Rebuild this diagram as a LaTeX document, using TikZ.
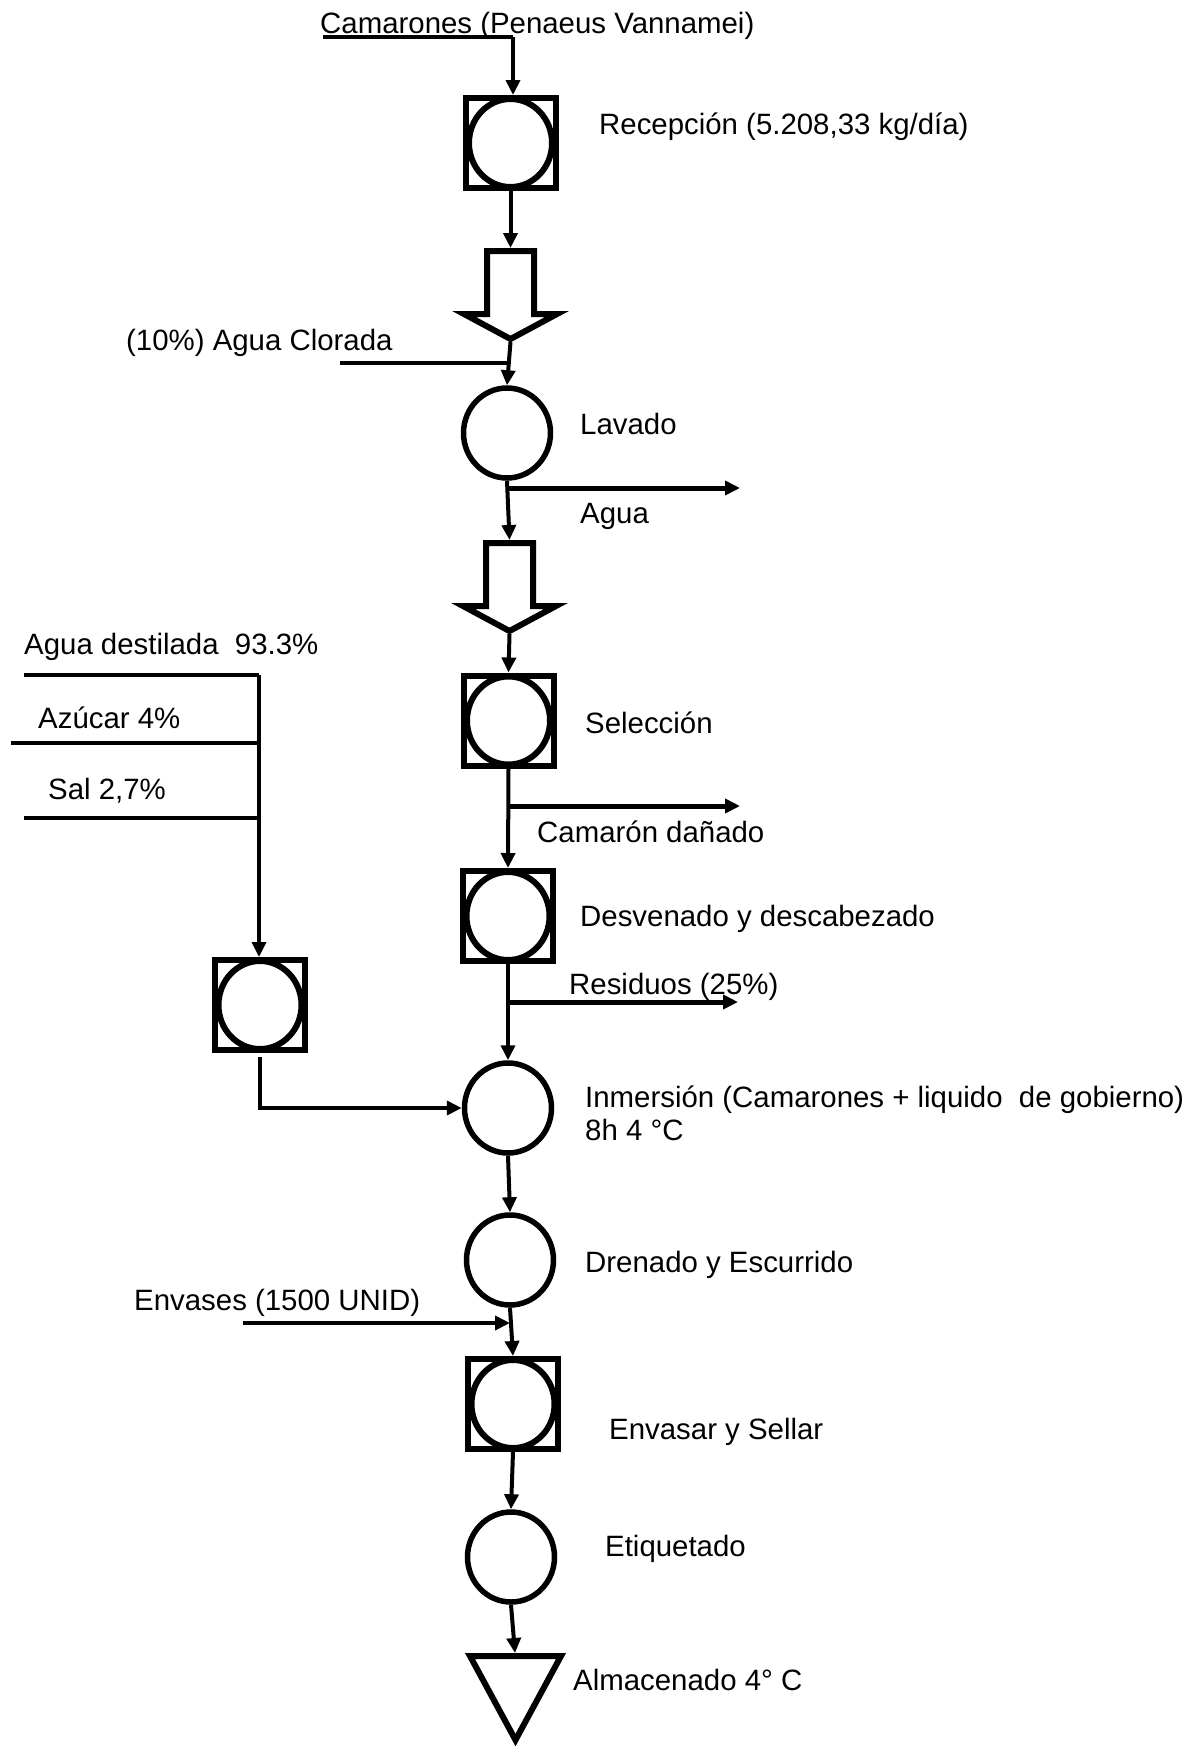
\documentclass[tikz,border=0pt]{standalone}
\usepackage{fontspec}
\setmainfont{Liberation Sans}
\usetikzlibrary{arrows.meta,shapes.geometric,calc}
\begin{document}
\begin{tikzpicture}[x=1pt,y=-1pt,
  lbl/.style={anchor=base west,inner sep=0pt,font=\fontsize{29.4pt}{35pt}\selectfont},
  opbox/.style={draw,rectangle,line width=6pt,minimum width=90pt,minimum height=90pt,inner sep=0pt},
  opcirc/.style={draw,ellipse,line width=6pt,minimum width=83pt,minimum height=88pt,inner sep=0pt},
  circ/.style={draw,ellipse,line width=5.5pt,minimum width=87pt,minimum height=90pt,inner sep=0pt},
  tip/.style={-{Triangle[length=15pt,width=14pt]}},
  flow/.style={line width=4pt,tip},
  outflow/.style={line width=5pt,tip},
  feed/.style={line width=4.5pt},
  hollow/.style={line width=6pt,line join=miter,fill=white},
]
\useasboundingbox (0,0) rectangle (1197,1746);

% ---- operations ----
\node[opbox] (rec) at (510.5,143) {};
\node[opcirc] (recc) at (rec) {};
\node[circ] (lav) at (507,433) {};
\node[opbox] (sel) at (508.5,720.5) {};
\node[opcirc] (selc) at (sel) {};
\node[opbox] (des) at (508,916) {};
\node[opcirc] (desc) at (des) {};
\node[opbox] (mix) at (260,1005) {};
\node[opcirc] (mixc) at (mix) {};
\node[circ] (inm) at (508,1108) {};
\node[circ] (dre) at (510,1260) {};
\node[opbox] (env) at (513,1404) {};
\node[opcirc] (envc) at (env) {};
\node[circ] (eti) at (511,1557) {};

% ---- transport (hollow arrows) ----
\draw[hollow] (487,251) -- (534,251) -- (534,314) -- (557,314) -- (510.5,339) -- (464,314) -- (487,314) -- cycle;
\coordinate (haT) at (510.5,248);
\coordinate (haB) at (510.5,342);
\draw[hollow] (486,543) -- (533,543) -- (533,606) -- (556,606) -- (509.5,631) -- (463,606) -- (486,606) -- cycle;
\coordinate (hbT) at (509.5,540);
\coordinate (hbB) at (509.5,634);

% ---- storage triangle ----
\draw[line width=6pt,line join=miter] (470,1656) -- (561,1656) -- (515.5,1740) -- cycle;
\coordinate (almT) at (515,1653);

% ---- labels ----
\node[lbl] (tcam) at (320,33) {Camarones (Penaeus Vannamei)};
\node[lbl] (trec) at (599,134) {Recepción (5.208,33 kg/día)};
\node[lbl] (tacl) at (126,350) {(10\%) Agua Clorada};
\node[lbl] (tlav) at (580,434) {Lavado};
\node[lbl] (tagua) at (580,523) {Agua};
\node[lbl] (tdes1) at (24,654) {Agua destilada\ \ 93.3\%};
\node[lbl] (tazu) at (38,728) {Azúcar 4\%};
\node[lbl] (tsal) at (48,799) {Sal 2,7\%};
\node[lbl] (tsel) at (585,733) {Selección};
\node[lbl] (tdan) at (537,842) {Camarón dañado};
\node[lbl] (tdes) at (580,926) {Desvenado y descabezado};
\node[lbl] (tres) at (569,994) {Residuos (25\%)};
\node[lbl] (tinm) at (585,1107) {Inmersión (Camarones + liquido\ \ de gobierno)};
\node[lbl] (tinm2) at (585,1140) {8h 4 °C};
\node[lbl] (tdre) at (585,1272) {Drenado y Escurrido};
\node[lbl] (tenv) at (134,1310) {Envases (1500 UNID)};
\node[lbl] (tenv2) at (609,1439) {Envasar y Sellar};
\node[lbl] (teti) at (605,1556) {Etiquetado};
\node[lbl] (talm) at (573,1690) {Almacenado 4° C};

% ---- connectors ----
\coordinate (c0) at (323,37);
\coordinate (c1) at (513,37);
\draw[feed] (c0) -- (c1);
\draw[flow] (c1) -- (c1 |- rec.north);
\draw[flow] (rec.south) -- (haT);
\draw[flow] (haB) -- (lav.north);
\coordinate (acl) at (340,363);
\coordinate (aclE) at (509,363);
\draw[feed] (acl) -- (aclE);
\draw[flow] (lav.south) -- (hbT);
\coordinate (o1) at (740,488);
\draw[outflow] (lav.south |- o1) -- (o1);
\draw[flow] (hbB) -- (sel.north);
\draw[flow] (sel.south) -- (des.north);
\coordinate (o2) at (740,806);
\draw[outflow] (sel.south |- o2) -- (o2);
\draw[flow] (des.south) -- (inm.north);
\coordinate (o3) at (738,1002);
\draw[outflow] (des.south |- o3) -- (o3);
% mixing branch
\coordinate (l1) at (24,675);
\coordinate (l2) at (11,743);
\coordinate (l3) at (24,818);
\coordinate (lv) at (259,675);
\draw[feed] (l1) -- (lv);
\draw[feed] (l2) -- (l2 -| lv);
\draw[feed] (l3) -- (l3 -| lv);
\draw[line width=3.5pt,tip] (lv) -- (lv |- mix.north);
\draw[flow] ([yshift=-4pt]mix.south) |- (inm.west);
\draw[flow] (inm.south) -- (dre.north);
\draw[flow] (dre.south) -- (env.north);
\coordinate (e1) at (243,1323);
\coordinate (e2) at (510,1323);
\draw[flow] (e1) -- (e2);
\draw[flow] (env.south) -- (eti.north);
\draw[flow] (eti.south) -- (almT);
\end{tikzpicture}
\end{document}
